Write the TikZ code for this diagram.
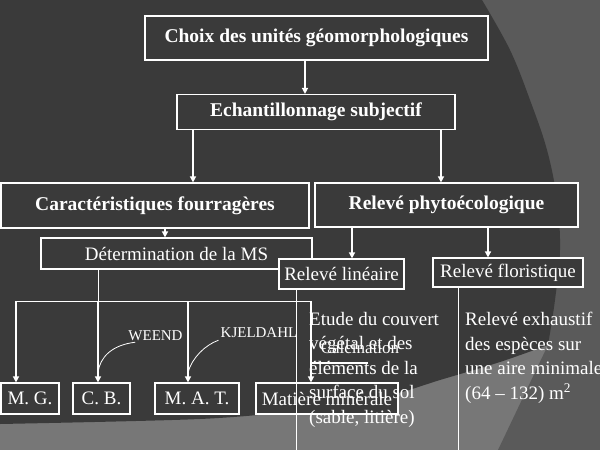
\documentclass[tikz,border=0pt]{standalone}
\usepackage{fontspec}
\setmainfont{Liberation Serif}
\usetikzlibrary{arrows.meta}

\definecolor{fond}{HTML}{3A3A3A}
\definecolor{cote}{HTML}{5A5A5A}
\definecolor{bande}{HTML}{777777}

\begin{document}
\begin{tikzpicture}[x=1pt, y=-1pt,
  boite/.style={draw=white, line width=1.2pt, fill=fond, text=white, inner sep=0pt},
  titre/.style={boite, font=\fontsize{19.5}{22}\selectfont\bfseries},
  simple/.style={boite, font=\fontsize{19}{22}\selectfont},
  fleche/.style={draw=white, line width=1.6pt, -{Triangle[width=6pt,length=6pt]}},
  trait/.style={draw=white, line width=0.9pt},
  courbe/.style={draw=white, line width=0.8pt},
  etiquette/.style={text=white, inner sep=0pt, font=\fontsize{15}{17}\selectfont},
  texte/.style={text=white, inner sep=0pt, align=left, anchor=north west, font=\fontsize{19}{24.5}\selectfont}]

\useasboundingbox (0,0) rectangle (600,450);

% Fond
\fill[bande] (0,0) rectangle (600,450);
\fill[cote] (450,0) -- (600,0) -- (600,450) -- (498,450) -- (548,345) -- (450,345) -- cycle;
\fill[fond] (0,0) -- (482,0)
  -- plot[smooth, tension=0.6] coordinates {(482,0) (510,50) (530,100) (547,150) (557,200) (560,250) (555,300) (548,345)}
  -- plot[smooth, tension=0.5] coordinates {(548,345) (500,362) (440,380) (390,395) (303,410) (200,419) (0,424)}
  -- cycle;

% Les cadres
\node[titre, minimum width=343pt, minimum height=44pt] (choix) at (316.5,38) {Choix des unités géomorphologiques};
\node[titre, minimum width=278pt, minimum height=35pt] (echant) at (316,112) {Echantillonnage subjectif};
\node[titre, minimum width=308pt, minimum height=45pt] (caract) at (155,205.5) {Caractéristiques fourragères};
\node[titre, minimum width=263pt, minimum height=44pt] (phyto) at (446.5,205) {Relevé phytoécologique};
\node[simple, minimum width=271pt, minimum height=31pt] (determ) at (176.5,253.5) {Détermination de la MS};
\node[simple, minimum width=125pt, minimum height=30pt] (lineaire) at (341.5,274) {Relevé linéaire};
\node[simple, minimum width=150pt, minimum height=29pt] (floristique) at (508,272.5) {Relevé floristique};

\node[simple, minimum width=58pt, minimum height=31pt] (mg) at (30,398.5) {M. G.};
\node[simple, minimum width=57pt, minimum height=31pt] (cb) at (101.5,398.5) {C. B.};
\node[simple, minimum width=84pt, minimum height=31pt] (mat) at (197,398.5) {M. A. T.};
\node[simple, minimum width=142pt, minimum height=31pt] (matmin) at (327,398.5) {Matière minérale};

% Les fleches
\draw[fleche] ([xshift=-11.5pt]choix.south) -- ([xshift=-11.5pt]choix.south |- echant.north);
\draw[fleche] ([xshift=-123pt]echant.south) -- ([xshift=-123pt]echant.south |- caract.north);
\draw[fleche] ([xshift=125pt]echant.south) -- ([xshift=125pt]echant.south |- phyto.north);
\draw[fleche] ([xshift=10pt]caract.south) -- ([xshift=10pt]caract.south |- determ.north);
\draw[fleche] ([xshift=-94.5pt]phyto.south) -- ([xshift=-94.5pt]phyto.south |- lineaire.north);
\draw[fleche] ([xshift=41.5pt]phyto.south) -- ([xshift=41.5pt]phyto.south |- floristique.north);

% Le bus vers les analyses
\coordinate (bus) at (16,301);
\coordinate (busfin) at (312,301);
\coordinate (bas) at (0,450);
\draw[trait] (bus) -- (busfin);
\draw[trait] ([xshift=-78.5pt]determ.south) -- ([xshift=-78.5pt]determ.south |- bus);
\draw[fleche] (bus) -- (bus |- mg.north);
\draw[fleche] ([xshift=-3.5pt]cb.north |- bus) -- ([xshift=-3.5pt]cb.north);
\draw[fleche] ([xshift=-9pt]mat.north |- bus) -- ([xshift=-9pt]mat.north);
\draw[fleche] ([xshift=-16pt]matmin.north |- bus) -- ([xshift=-16pt]matmin.north);

% Les traits verticaux
\draw[trait] ([xshift=-45.5pt]lineaire.south) -- ([xshift=-45.5pt]lineaire.south |- bas);
\draw[trait] ([xshift=-50pt]floristique.south) -- ([xshift=-50pt]floristique.south |- bas);

% Les methodes
\node[etiquette] (weend) at (155.5,336) {WEEND};
\node[etiquette] (kjeldahl) at (259,333) {KJELDAHL};
\node[etiquette, font=\fontsize{17}{19}\selectfont] (calcin) at (360,348) {Calcination};
\draw[courbe] ([xshift=7pt,yshift=-1pt]weend.south west) .. controls (112,345) and (100,357) .. ([xshift=-3.5pt,yshift=10pt]cb.north);
\draw[courbe] ([xshift=-2pt,yshift=-2pt]kjeldahl.south west) .. controls (205,345) and (192,358) .. ([xshift=-9pt,yshift=10pt]mat.north);
\draw[trait, line width=1.4pt] ([xshift=8pt,yshift=-9pt]calcin.south) -- ([yshift=-9pt]calcin.south -| busfin);

% Les textes
\node[texte] (etude) at (309,312) {Etude du couvert\\végétal et des\\éléments de la\\surface du sol\\(sable, litière)};
\node[texte] (exhaustif) at (465,312) {Relevé exhaustif\\des espèces sur\\une aire minimale\\(64 – 132) m\textsuperscript{2}};

\end{tikzpicture}
\end{document}
